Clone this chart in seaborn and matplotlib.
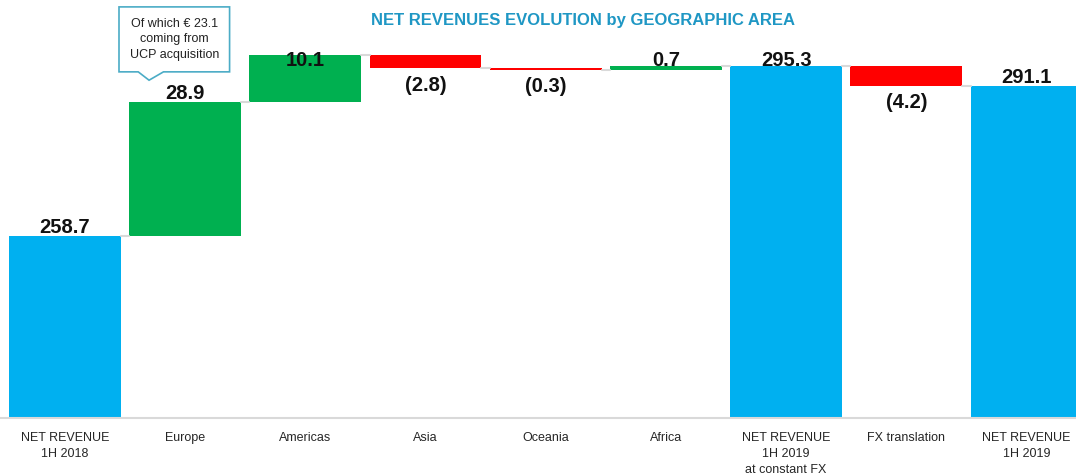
import numpy as np
import pandas as pd
import matplotlib
matplotlib.use('Agg')
import matplotlib.pyplot as plt
from matplotlib.patches import Polygon
import seaborn as sns

categories = ["NET REVENUE\n1H 2018", "Europe", "Americas", "Asia", "Oceania", "Africa",
              "NET REVENUE\n1H 2019\nat constant FX", "FX translation", "NET REVENUE\n1H 2019"]
values = [258.7, 28.9, 10.1, -2.8, -0.3, 0.7, 295.3, -4.2, 291.1]
is_total = [True, False, False, False, False, False, True, False, True]
value_labels = ["258.7", "28.9", "10.1", "(2.8)", "(0.3)", "0.7", "295.3", "(4.2)", "291.1"]
callout_text = "Of which € 23.1\ncoming from\nUCP acquisition"
title = "NET REVENUES EVOLUTION by GEOGRAPHIC AREA"

BLUE, GREEN, RED = '#00B0F0', '#00B050', '#FF0000'

sns.set_theme(style='white')
plt.rcParams['font.family'] = ['Liberation Sans', 'DejaVu Sans']

# waterfall geometry
bottoms, tops, colors = [], [], []
level = 0
for v, tot in zip(values, is_total):
    if tot:
        bottoms.append(0)
        tops.append(v)
        level = v
        colors.append(BLUE)
    else:
        bottoms.append(min(level, level + v))
        tops.append(max(level, level + v))
        level = level + v
        colors.append(GREEN if v > 0 else RED)

df = pd.DataFrame({'cat': categories, 'height': np.array(tops) - np.array(bottoms)})

fig = plt.figure(figsize=(10.76, 4.76), dpi=100)
ax = fig.add_axes([0, 58 / 476, 1, 418 / 476])

bar_w = 0.93
sns.barplot(data=df, x='cat', y='height', hue='cat', palette=colors, legend=False,
            width=bar_w, saturation=1, ax=ax, order=categories, hue_order=categories)

for p in ax.patches:
    i = int(round(p.get_x() + p.get_width() / 2))
    p.set_y(bottoms[i])
    p.set_height(tops[i] - bottoms[i])
    p.set_linewidth(0)

ymin = 219.5
ax.set_ylim(ymin, ymin + 418 / 4.64)
ax.set_xlim(-0.54, -0.54 + 1076 / 120.2)

# connectors
running = []
level = 0
for v, tot in zip(values, is_total):
    level = v if tot else level + v
    running.append(level)
for i in range(len(values) - 1):
    ax.plot([i + bar_w / 2, i + 1 - bar_w / 2], [running[i], running[i]],
            color='#d9d9d9', lw=1.5, zorder=1)

# value labels
for i, (v, tot) in enumerate(zip(values, is_total)):
    if v >= 0 or tot:
        ax.text(i, min(tops[i] + 1.8, 296.6), value_labels[i], ha='center', va='center',
                fontsize=14.5, fontweight='bold', color='#111111')
    else:
        ax.text(i, bottoms[i] - 1.6, value_labels[i], ha='center', va='top',
                fontsize=14.5, fontweight='bold', color='#111111')

# axes styling
for s in ['top', 'right', 'left']:
    ax.spines[s].set_visible(False)
ax.spines['bottom'].set_color('#d9d9d9')
ax.spines['bottom'].set_linewidth(1.5)
ax.set_yticks([])
ax.set_xlabel('')
ax.set_ylabel('')
ax.tick_params(axis='x', length=0, pad=10, labelsize=9, labelcolor='#262626')
for t in ax.get_xticklabels():
    t.set_linespacing(1.45)
    t.set_va('top')

# callout on Europe
bl, br, bt, bb = 0.45, 1.37, 308.1, 294.1
tail = [(0.61, bb), (0.70, 292.3), (0.82, bb)]
poly = Polygon([(bl, bt), (br, bt), (br, bb), tail[2], tail[1], tail[0], (bl, bb)],
               closed=True, facecolor='white', edgecolor='#4BACC6', lw=1.2, zorder=5,
               clip_on=False)
ax.add_patch(poly)
ax.text((bl + br) / 2, (bt + bb) / 2, callout_text, ha='center', va='center',
        fontsize=9, color='#222222', linespacing=1.35, zorder=6)

fig.text(583 / 1076, 1 - 20 / 476, title, ha='center', va='center',
         fontsize=12, fontweight='bold', color='#1F97C4')

fig.savefig('out.png', dpi=100)
